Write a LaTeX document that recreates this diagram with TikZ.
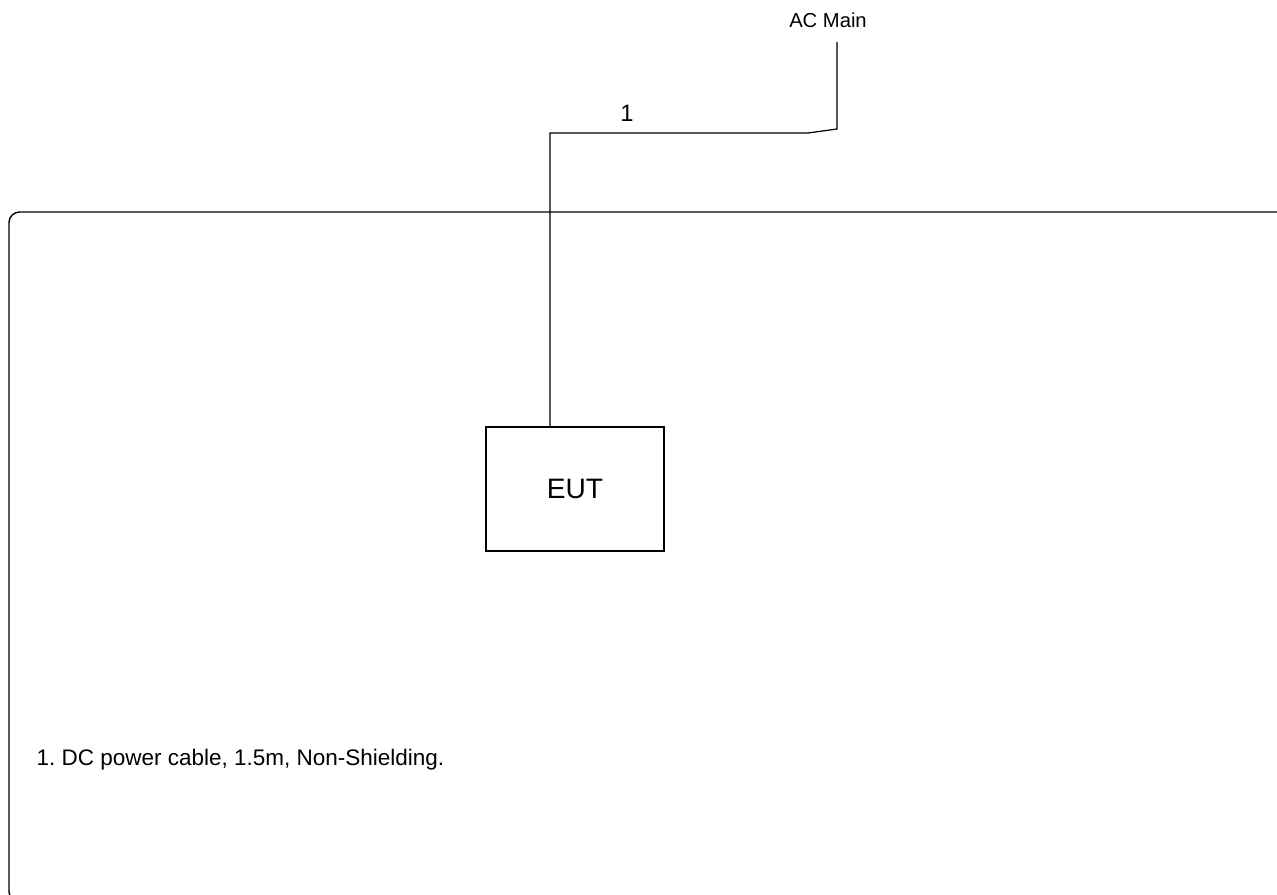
\documentclass[tikz,border=0pt]{standalone}
\usepackage{fontspec}
\setmainfont{Liberation Sans}
\usepackage{tikz}
\frenchspacing

\begin{document}
\begin{tikzpicture}[x=0.2mm,y=-0.2mm, line width=0.7pt]
                \useasboundingbox (0,0) rectangle (1277,895);
                \clip (0,0) rectangle (1277,895);

                % table area
                \draw[line width=0.8pt, rounded corners=6pt] (9,212) rectangle (1290,902);

                % EUT
                \node[draw, minimum width=35.6mm, minimum height=24.8mm,
                      font=\fontsize{16}{18}\selectfont] (eut) at (575,489) {EUT};

                % cable 1 to the mains
                \coordinate (plug) at (837,42);
                \node[font=\fontsize{11.5}{13}\selectfont] (acmain) at (828,20) {AC Main};
                \node[font=\fontsize{13.5}{15}\selectfont] (num) at (627,113) {1};
                \draw[] (eut.north -| 550,0) -- (550,133) -- (808,133) -- (837,129) -- (plug);

                % legend
                \node[anchor=west, inner sep=0pt, font=\fontsize{12.8}{15}\selectfont] (note) at (36,760)
                {1. DC power cable, 1.5m, Non-Shielding.};
            \end{tikzpicture}
\end{document}
